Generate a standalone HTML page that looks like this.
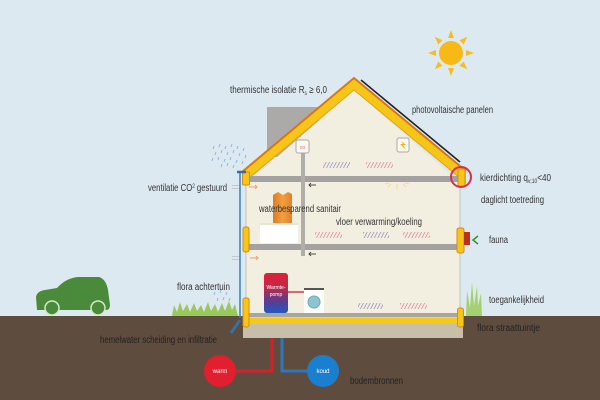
<!DOCTYPE html>
<html><head><meta charset="utf-8"><style>
html,body{margin:0;padding:0;background:#dde9f1;}
svg{display:block}
text{font-family:"Liberation Sans Narrow","Liberation Sans",sans-serif;fill:#333;}
</style></head><body>
<svg width="600" height="400" viewBox="0 0 600 400" xmlns="http://www.w3.org/2000/svg">
<defs>
<pattern id="hp" width="3.4" height="8" patternUnits="userSpaceOnUse" patternTransform="skewX(-28)"><line x1="1" y1="0" x2="1" y2="8" stroke="#e48a98" stroke-width="0.9"/></pattern>
<pattern id="hg" width="3.4" height="8" patternUnits="userSpaceOnUse" patternTransform="skewX(-28)"><line x1="1" y1="0" x2="1" y2="8" stroke="#9a97c2" stroke-width="0.9"/></pattern>
<linearGradient id="wp" x1="0" y1="0" x2="0" y2="1"><stop offset="0" stop-color="#e0203a"/><stop offset="0.35" stop-color="#c02848"/><stop offset="0.7" stop-color="#5a3c90"/><stop offset="1" stop-color="#2458c0"/></linearGradient>
<linearGradient id="or" x1="0" y1="0" x2="1" y2="0"><stop offset="0" stop-color="#e07a20"/><stop offset="0.5" stop-color="#f0a040"/><stop offset="1" stop-color="#e08428"/></linearGradient>
</defs>
<!-- sky -->
<rect x="0" y="0" width="600" height="400" fill="#dde9f1"/>
<!-- sun -->
<g transform="translate(451,53)" fill="#f6bd22">
<circle r="12" fill="#f7b916"/>
<g id="ray"><polygon points="-3,-15 3,-15 0,-23"/></g>
<use href="#ray" transform="rotate(45)"/><use href="#ray" transform="rotate(90)"/><use href="#ray" transform="rotate(135)"/>
<use href="#ray" transform="rotate(180)"/><use href="#ray" transform="rotate(225)"/><use href="#ray" transform="rotate(270)"/><use href="#ray" transform="rotate(315)"/>
</g>
<!-- chimney -->
<rect x="267" y="107" width="52" height="50" fill="#acaaa8"/>
<!-- ground -->
<rect x="0" y="316" width="600" height="84" fill="#5e4c3e"/>
<!-- house body -->
<polygon points="246,184 354,90 460,183 460,313 246,313" fill="#f2eee0"/>
<!-- walls -->
<line x1="246" y1="183" x2="246" y2="313" stroke="#bdb8aa" stroke-width="0.8"/>
<line x1="460" y1="183" x2="460" y2="313" stroke="#bdb8aa" stroke-width="0.8"/>
<!-- roof -->
<polygon points="242,172 354,78 466,171 466,183 354,90 242,184" fill="#f5c518"/>
<polyline points="242,172 354,78 466,171" fill="none" stroke="#d9761a" stroke-width="2"/>
<polyline points="242,184 354,90 466,183" fill="none" stroke="#e2a21e" stroke-width="1"/>
<line x1="361" y1="80" x2="460" y2="162" stroke="#222" stroke-width="1.6"/>
<!-- beams -->
<rect x="246" y="176" width="214" height="6" fill="#a4a2a0"/>
<rect x="246" y="244" width="214" height="6" fill="#a4a2a0"/>
<rect x="246" y="313" width="214" height="4" fill="#a9a5a0"/>
<rect x="246" y="318" width="214" height="6" fill="#f4c91a"/>
<rect x="243" y="324" width="220" height="14" fill="#c7bfaa"/>
<rect x="243" y="317" width="220" height="1" fill="#d8d2c0"/>
<!-- posts -->
<g fill="#f5c518" stroke="#d98a1a" stroke-width="1">
<rect x="242.5" y="172" width="7" height="13" rx="1"/>
<rect x="243" y="227" width="6" height="25" rx="2"/>
<rect x="243" y="298" width="6" height="29" rx="2"/>
<rect x="458" y="169" width="7" height="17" rx="1"/>
<rect x="457" y="228" width="7" height="25" rx="2"/>
<rect x="457.5" y="308" width="6" height="19" rx="2"/>
</g>
<circle cx="461" cy="177" r="10" fill="none" stroke="#d8304a" stroke-width="2"/>
<!-- fauna -->
<rect x="464" y="232" width="6" height="13" fill="#b8321f"/>
<polyline points="478,236 473,240 478,244" fill="none" stroke="#3a8a3a" stroke-width="1.5"/>
<!-- duct -->
<rect x="301" y="153" width="4" height="103" fill="#b0aeab"/>
<g stroke="#222" stroke-width="0.8" fill="none">
<line x1="309" y1="185" x2="316" y2="185"/><polyline points="311,183 309,185 311,187"/>
<line x1="309" y1="254" x2="316" y2="254"/><polyline points="311,252 309,254 311,256"/>
</g>
<!-- icons -->
<rect x="296" y="140" width="13" height="13" rx="2" fill="#fbf8f0" stroke="#aaa" stroke-width="1"/>
<text x="302.5" y="149" font-size="5" text-anchor="middle" style="fill:#e07080">co</text>
<rect x="397" y="138" width="12" height="14" rx="2" fill="#fbf8f0" stroke="#aaa" stroke-width="1"/>
<polygon points="401,141 406,145 403,145 406,150 400,144 403,144" fill="#f0b020"/>
<!-- hatches -->
<rect x="323" y="162" width="27" height="6" fill="url(#hg)"/>
<rect x="366" y="162" width="27" height="6" fill="url(#hp)"/>
<rect x="315" y="232" width="27" height="6" fill="url(#hp)"/>
<rect x="363" y="232" width="26" height="6" fill="url(#hg)"/>
<rect x="403" y="232" width="27" height="6" fill="url(#hp)"/>
<rect x="358" y="303" width="25" height="6" fill="url(#hg)"/>
<rect x="400" y="303" width="27" height="6" fill="url(#hp)"/>
<!-- daylight glow -->
<g stroke="#f3dc8a" stroke-width="1">
<line x1="397" y1="184" x2="397" y2="189"/><line x1="391" y1="184" x2="388" y2="187"/><line x1="403" y1="184" x2="406" y2="187"/><line x1="389" y1="183" x2="385" y2="184"/><line x1="405" y1="183" x2="409" y2="184"/>
</g>
<!-- sanitair -->
<path d="M273,195 L278,192 L283,195 L288,192 L292,194 L292,224 L273,224 Z" fill="url(#or)"/>
<rect x="260" y="223" width="38" height="20" fill="#ffffff"/>
<rect x="260" y="223" width="38" height="2" fill="#e8e4d8"/>
<!-- heat pump -->
<rect x="264" y="273" width="24" height="40" rx="3" fill="url(#wp)"/>
<text x="276" y="289" font-size="5" text-anchor="middle" style="fill:#fff">Warmte-</text>
<text x="276" y="296" font-size="5" text-anchor="middle" style="fill:#fff">pomp</text>
<line x1="288" y1="292" x2="304" y2="292" stroke="#c84050" stroke-width="1.5"/>
<!-- washer -->
<rect x="304" y="288" width="20" height="25" fill="#fdfdfd"/>
<rect x="304" y="288" width="20" height="2" fill="#555"/>
<circle cx="314" cy="302" r="6" fill="#8cc4d0" stroke="#6aaab8" stroke-width="1"/>
<!-- ventilation arrows -->
<g stroke="#c8c8c8" stroke-width="1"><line x1="232" y1="185.5" x2="240" y2="185.5"/><line x1="232" y1="188.5" x2="240" y2="188.5"/><line x1="232" y1="256.5" x2="240" y2="256.5"/><line x1="232" y1="259.5" x2="240" y2="259.5"/></g>
<g stroke="#f0a070" stroke-width="1" fill="none"><line x1="249" y1="187" x2="257" y2="187"/><polyline points="255,185 257,187 255,189"/><line x1="250" y1="258" x2="258" y2="258"/><polyline points="256,256 258,258 256,260"/></g>
<!-- downpipe -->
<line x1="240" y1="172" x2="240" y2="318" stroke="#3a7fc0" stroke-width="1.5"/>
<line x1="237" y1="172" x2="246" y2="172" stroke="#2f6fb0" stroke-width="2.5"/>
<line x1="240" y1="320" x2="231" y2="333" stroke="#3c6f9a" stroke-width="3"/>
<!-- rain -->
<g stroke="#8fb8d8" stroke-width="1">
<path d="M214,146 l-1,3 M220,144 l-1,3 M226,146 l-1,3 M232,144 l-1,3 M238,146 l-1,3 M244,148 l-1,3 M216,152 l-1,3 M222,150 l-1,3 M228,152 l-1,3 M234,150 l-1,3 M240,153 l-1,3 M246,155 l-1,3 M213,158 l-1,3 M219,157 l-1,3 M225,159 l-1,3 M231,157 l-1,3 M237,160 l-1,3 M243,161 l-1,3 M222,164 l-1,3 M228,163 l-1,3 M234,165 l-1,3"/>
<path d="M215,292 l-1,3 M221,290 l-1,3 M227,292 l-1,3 M218,298 l-1,3 M224,297 l-1,3 M230,298 l-1,3"/>
</g>
<!-- grass left -->
<path d="M172,316 L174,305 L177,312 L180,302 L183,311 L187,304 L190,312 L194,303 L197,311 L201,305 L204,312 L208,302 L211,311 L215,304 L218,312 L222,303 L225,311 L229,301 L232,310 L235,304 L238,316 Z" fill="#9bc85a"/>
<!-- grass right -->
<path d="M466,316 L467,290 L470,308 L472,282 L474,306 L477,286 L478,306 L481,293 L482,316 Z" fill="#a3d070"/>
<!-- car -->
<path d="M37,310 L36,297 Q37,291 45,290 L57,288 Q66,278 78,277 L99,277 Q106,279 108,290 L110,305 Q110,310 106,310 Z" fill="#4a8b3b"/>
<circle cx="52" cy="308" r="7" fill="#4a8b3b" stroke="#d4e8c4" stroke-width="1.5"/>
<circle cx="98" cy="308" r="7" fill="#4a8b3b" stroke="#d4e8c4" stroke-width="1.5"/>
<!-- pipes -->
<polyline points="272,338 272,371 236,371" fill="none" stroke="#d42030" stroke-width="3"/>
<polyline points="282,338 282,371 307,371" fill="none" stroke="#2a78c0" stroke-width="3"/>
<circle cx="220" cy="371" r="16" fill="#e21f2e"/>
<circle cx="323" cy="371" r="16" fill="#1b7fd0"/>
<text x="220" y="373" font-size="6" text-anchor="middle" style="fill:#fff">warm</text>
<text x="323" y="373" font-size="6" text-anchor="middle" style="fill:#fff">koud</text>
<!-- labels -->
<text x="230" y="93" font-size="10" textLength="97" lengthAdjust="spacingAndGlyphs">thermische isolatie R<tspan font-size="6" dy="2">s</tspan><tspan dy="-2"> ≥ 6,0</tspan></text>
<text x="412" y="113" font-size="10" textLength="81" lengthAdjust="spacingAndGlyphs">photovoltaische panelen</text>
<text x="480" y="181" font-size="10" textLength="71" lengthAdjust="spacingAndGlyphs">kierdichting q<tspan font-size="6" dy="2">v;10</tspan><tspan dy="-2">&lt;40</tspan></text>
<text x="481" y="203" font-size="10" textLength="63" lengthAdjust="spacingAndGlyphs">daglicht toetreding</text>
<text x="489" y="243" font-size="10" textLength="19" lengthAdjust="spacingAndGlyphs">fauna</text>
<text x="489" y="303" font-size="10" textLength="55" lengthAdjust="spacingAndGlyphs">toegankelijkheid</text>
<text x="477" y="331" font-size="10" textLength="63" lengthAdjust="spacingAndGlyphs" style="fill:#222">flora straattuintje</text>
<text x="350" y="384" font-size="10" textLength="53" lengthAdjust="spacingAndGlyphs" style="fill:#222">bodembronnen</text>
<text x="100" y="343" font-size="10" textLength="117" lengthAdjust="spacingAndGlyphs" style="fill:#222">hemelwater scheiding en infiltratie</text>
<text x="177" y="290" font-size="10" textLength="53" lengthAdjust="spacingAndGlyphs">flora achtertuin</text>
<text x="148" y="191" font-size="10" textLength="79" lengthAdjust="spacingAndGlyphs">ventilatie CO<tspan font-size="6" dy="-3">2</tspan><tspan dy="3"> gestuurd</tspan></text>
<text x="259" y="212" font-size="10" textLength="82" lengthAdjust="spacingAndGlyphs">waterbesparend sanitair</text>
<text x="336" y="225" font-size="10" textLength="86" lengthAdjust="spacingAndGlyphs">vloer verwarming/koeling</text>
</svg>
</body></html>
